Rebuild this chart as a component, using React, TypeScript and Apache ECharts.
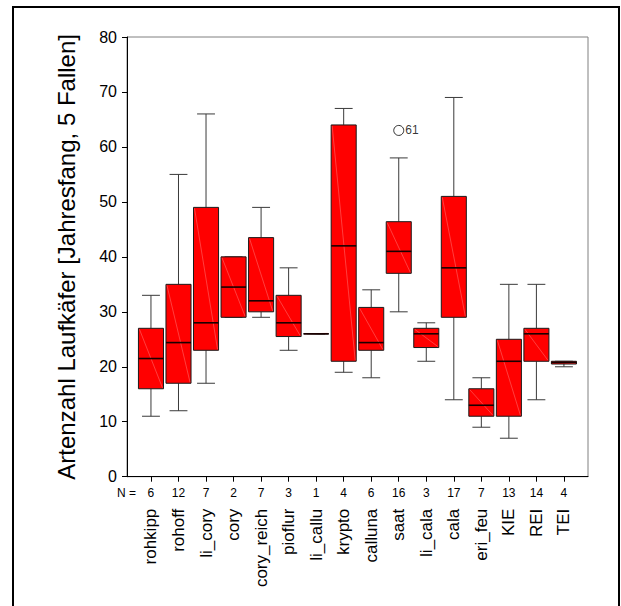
import React, { useEffect, useRef } from "react";
import * as echarts from "echarts";

const categories = ["rohkipp", "rohoff", "li_cory", "cory", "cory_reich", "pioflur", "li_callu", "krypto", "calluna", "saat", "li_cala", "cala", "eri_feu", "KIE", "REI", "TEI"];
const counts = [6, 12, 7, 2, 7, 3, 1, 4, 6, 16, 3, 17, 7, 13, 14, 4];
const whiskerLow = [11, 12, 17, 29, 29, 23, 26, 19, 18, 30, 21, 14, 9, 7, 14, 20];
const q1 = [16, 17, 23, 29, 30, 25.5, 26, 21, 23, 37, 23.5, 29, 11, 11, 21, 20.5];
const median = [21.5, 24.4, 28, 34.5, 32, 28, 26, 42, 24.4, 41, 26, 38, 13, 21, 26, 20.8];
const q3 = [27, 35, 49, 40, 43.5, 33, 26, 64, 30.8, 46.4, 27, 51, 16, 25, 27, 21];
const whiskerHigh = [33, 55, 66, 40, 49, 38, 26, 67, 34, 58, 28, 69, 18, 35, 35, 21];
const outlierCategory = ["saat"];
const outlierValue = [63];
const outlierCase = ["61"];
const yTicks = [0, 10, 20, 30, 40, 50, 60, 70, 80];

const FONT = "'Liberation Sans', Arial, Helvetica, sans-serif";

export default function App() {
  const ref = useRef<HTMLDivElement>(null);
  useEffect(() => {
    if (!ref.current) return;
    const chart = echarts.init(ref.current, null, { renderer: "svg" });
    const boxData = categories.map((_, i) => [i, whiskerLow[i], q1[i], median[i], q3[i], whiskerHigh[i]]);
    const left0 = 127, top0 = 37, right0 = 33, bottom0 = 129.3;
    const left1 = 137.2, right1 = 43.3;
    const yMin = yTicks[0], yMax = yTicks[yTicks.length - 1], yInt = yTicks[1] - yTicks[0];

    const option: any = {
      animation: false,
      backgroundColor: "#ffffff",
      grid: [
        { left: left0, right: right0, top: top0, bottom: bottom0, show: true, borderColor: "#808080", borderWidth: 1 },
        { left: left1, right: right1, top: top0, bottom: bottom0 },
      ],
      xAxis: [
        {
          type: "category",
          gridIndex: 1,
          data: categories,
          axisLine: { show: false },
          axisTick: { show: true, alignWithLabel: true, length: 5, lineStyle: { color: "#000" } },
          axisLabel: { rotate: 90, margin: 32, fontSize: 17, color: "#000", fontFamily: FONT, interval: 0 },
          splitLine: { show: false },
        },
        {
          type: "category",
          gridIndex: 1,
          data: categories,
          position: "bottom",
          axisLine: { show: false },
          axisTick: { show: false },
          axisLabel: {
            margin: 10,
            fontSize: 12,
            color: "#000",
            fontFamily: FONT,
            interval: 0,
            formatter: (_v: string, i: number) => String(counts[i]),
          },
        },
        {
          type: "value",
          gridIndex: 0,
          min: 0,
          max: 1,
          axisLine: { show: true, lineStyle: { color: "#000", width: 1 } },
          axisTick: { show: false },
          axisLabel: { show: false },
          splitLine: { show: false },
        },
      ],
      yAxis: [
        {
          type: "value",
          gridIndex: 0,
          min: yMin,
          max: yMax,
          interval: yInt,
          name: "Artenzahl Laufkäfer [Jahresfang, 5 Fallen]",
          nameLocation: "middle",
          nameGap: 49,
          nameTextStyle: { fontSize: 24, color: "#000", fontFamily: FONT },
          axisLine: { show: true, lineStyle: { color: "#000", width: 1 } },
          axisTick: { show: true, length: 5, lineStyle: { color: "#000" } },
          axisLabel: { fontSize: 16, color: "#000", fontFamily: FONT, margin: 10 },
          splitLine: { show: false },
        },
        {
          type: "value",
          gridIndex: 1,
          min: yMin,
          max: yMax,
          show: false,
          splitLine: { show: false },
        },
      ],
      graphic: [
        {
          type: "rect",
          shape: { x: 13, y: 7, width: 606, height: 610 },
          style: { fill: "none", stroke: "#000", lineWidth: 2 },
          silent: true,
        },
        {
          type: "text",
          x: 117,
          y: 493,
          style: { text: "N =", fontSize: 12, fontFamily: FONT, fill: "#000", align: "left", verticalAlign: "middle" },
        },
      ],
      series: [
        {
          type: "custom",
          xAxisIndex: 0,
          yAxisIndex: 1,
          data: boxData,
          encode: { x: 0, y: [1, 2, 3, 4, 5] },
          renderItem: (params: any, api: any) => {
            const idx = api.value(0);
            const pMin = api.coord([idx, api.value(1)]);
            const pQ1 = api.coord([idx, api.value(2)]);
            const pMed = api.coord([idx, api.value(3)]);
            const pQ3 = api.coord([idx, api.value(4)]);
            const pMax = api.coord([idx, api.value(5)]);
            const band = api.size([1, 0])[0];
            const bw = band * 0.91;
            const cw = band * 0.65;
            const x = pMed[0];
            const wStyle = { stroke: "#3a3a3a", lineWidth: 1, fill: "none" };
            return {
              type: "group",
              children: [
                { type: "line", shape: { x1: x, y1: pQ3[1], x2: x, y2: pMax[1] }, style: wStyle },
                { type: "line", shape: { x1: x, y1: pQ1[1], x2: x, y2: pMin[1] }, style: wStyle },
                { type: "line", shape: { x1: x - cw / 2, y1: pMax[1], x2: x + cw / 2, y2: pMax[1] }, style: wStyle },
                { type: "line", shape: { x1: x - cw / 2, y1: pMin[1], x2: x + cw / 2, y2: pMin[1] }, style: wStyle },
                {
                  type: "rect",
                  shape: { x: x - bw / 2, y: pQ3[1], width: bw, height: pQ1[1] - pQ3[1] },
                  style: { fill: "#ff0000", stroke: "#1a1a1a", lineWidth: 1 },
                },
                {
                  type: "line",
                  shape: { x1: x - bw / 2 + 1, y1: pQ3[1] + 1, x2: x + bw / 2 - 1, y2: pQ1[1] - 1 },
                  style: { stroke: "rgba(255,190,190,0.55)", lineWidth: 0.6 },
                },
                {
                  type: "line",
                  shape: { x1: x - bw / 2, y1: pMed[1], x2: x + bw / 2, y2: pMed[1] },
                  style: { stroke: "#1a0000", lineWidth: 1.6 },
                },
              ],
            };
          },
          z: 2,
        },
        {
          type: "scatter",
          xAxisIndex: 0,
          yAxisIndex: 1,
          data: outlierCategory.map((c, i) => [c, outlierValue[i]]),
          symbol: "circle",
          symbolSize: 10,
          itemStyle: { color: "#ffffff", borderColor: "#000", borderWidth: 1 },
          label: {
            show: true,
            position: "right",
            distance: 1,
            fontSize: 12,
            color: "#000",
            fontFamily: FONT,
            formatter: (p: any) => outlierCase[p.dataIndex],
          },
          z: 3,
        },
      ],
    };
    chart.setOption(option);
    return () => chart.dispose();
  }, []);
  return (
    <div
      ref={ref}
      style={{ position: "fixed", left: 0, top: 0, width: 621, height: 606, background: "#fff" }}
    />
  );
}
